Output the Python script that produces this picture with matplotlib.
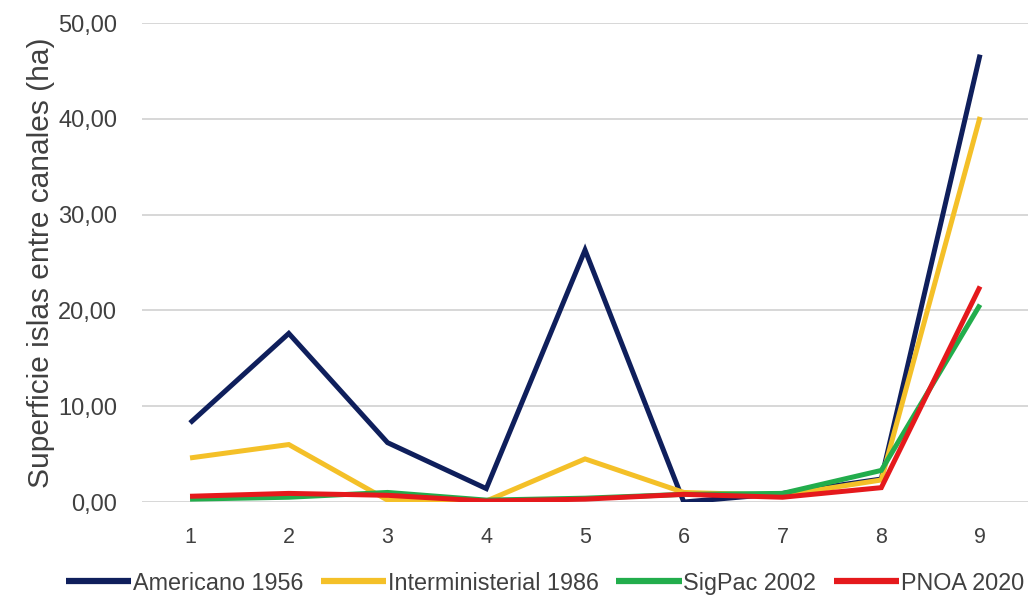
import matplotlib
matplotlib.use("Agg")
import matplotlib.pyplot as plt
from matplotlib.ticker import FuncFormatter

# Superficie de islas entre canales por tramo y fuente cartográfica
tramos = [1, 2, 3, 4, 5, 6, 7, 8, 9]
americano_1956 = [8.25, 17.6, 6.2, 1.4, 26.3, 0.0, 0.9, 2.4, 46.7]
interministerial_1986 = [4.6, 6.0, 0.2, 0.1, 4.5, 1.0, 0.7, 2.3, 40.2]
sigpac_2002 = [0.3, 0.5, 1.0, 0.2, 0.4, 0.8, 0.9, 3.3, 20.6]
pnoa_2020 = [0.6, 0.9, 0.7, 0.1, 0.3, 0.8, 0.5, 1.5, 22.5]

series = [
    ("Americano 1956", americano_1956, "#0F1F5C"),
    ("Interministerial 1986", interministerial_1986, "#F4C028"),
    ("SigPac 2002", sigpac_2002, "#22AD4C"),
    ("PNOA 2020", pnoa_2020, "#E5191C"),
]

plt.rcParams["font.family"] = ["Liberation Sans", "DejaVu Sans"]

fig = plt.figure(figsize=(10.30, 5.98), dpi=100)
ax = fig.add_axes([0.138, 0.1605, 0.860, 0.801])

for name, vals, col in series:
    ax.plot(tramos, vals, color=col, lw=3.6, label=name,
            solid_joinstyle="miter", solid_capstyle="butt")

ax.set_xlim(0.515, 9.485)
ax.set_ylim(0, 50)
ax.set_yticks([0, 10, 20, 30, 40, 50])
ax.set_xticks(tramos)
ax.yaxis.set_major_formatter(FuncFormatter(lambda v, p: f"{v:.2f}".replace(".", ",")))

ax.grid(axis="y", color="#D4D4D4", lw=1.3)
ax.set_axisbelow(True)
for s in ax.spines.values():
    s.set_visible(False)
ax.tick_params(axis="both", length=0, colors="#404040")
ax.tick_params(axis="y", pad=18, labelsize=17)
ax.tick_params(axis="x", pad=18, labelsize=15.5)

ax.set_ylabel("Superficie islas entre canales (ha)", fontsize=21.5, color="#404040",
              labelpad=2)

leg = fig.legend(loc="center", bbox_to_anchor=(0.529, 0.025), ncol=4, frameon=False,
                 handlelength=2.8, handletextpad=0.08, columnspacing=0.75,
                 prop={"size": 16.8})
for t in leg.get_texts():
    t.set_color("#404040")
for h in leg.get_lines():
    h.set_linewidth(4.5)

fig.savefig("out.png", dpi=100)
